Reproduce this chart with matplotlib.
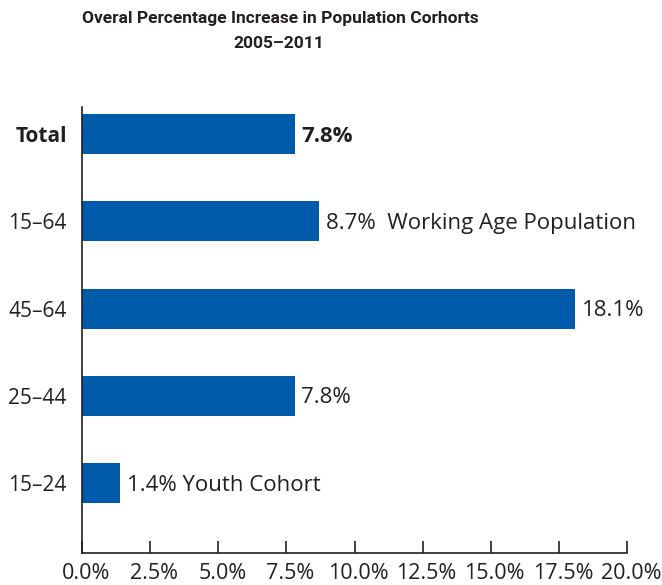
import matplotlib
matplotlib.use("Agg")
import matplotlib.pyplot as plt
from matplotlib.transforms import ScaledTranslation

plt.rcParams['font.family'] = ['Open Sans', 'DejaVu Sans']

categories = ["15\u201324", "25\u201344", "45\u201364", "15\u201364", "Total"]
values = [1.4, 7.8, 18.1, 8.7, 7.8]
notes = ["Youth Cohort", "", "", "Working Age Population", ""]
tick_values = [0.0, 2.5, 5.0, 7.5, 10.0, 12.5, 15.0, 17.5, 20.0]
tick_labels = ["0.0%", "2.5%", "5.0%", "7.5%", "10.0%", "12.5%", "15.0%", "17.5%", "20.0%"]

bar_color = "#005BAA"
text_color = "#231F20"

W, H = 662, 585
fig = plt.figure(figsize=(W / 100, H / 100), dpi=100)
ax = fig.add_axes([82 / W, 1 - 553 / H, (627 - 82) / W, (553 - 107) / H])

ypos = list(range(len(categories)))
ax.barh(ypos, values, height=0.46, color=bar_color, zorder=2)

ax.set_xlim(0, 20)
ax.set_ylim(-0.80, 4.31)

for i, (v, note) in enumerate(zip(values, notes)):
    bold = categories[i] == "Total"
    label = f"{v:.1f}%"
    if note:
        label = label + ("  " if note.startswith("Working") else " ") + note
    ax.annotate(label, (v, i), xytext=(5, -1.5), textcoords="offset points",
                va="center", ha="left", fontsize=16, color=text_color,
                fontweight="bold" if bold else "normal", annotation_clip=False)

ax.set_yticks(ypos)
ax.set_yticklabels(categories, fontsize=15, color=text_color)
for lbl, cat in zip(ax.get_yticklabels(), categories):
    if cat == "Total":
        lbl.set_fontweight("bold")
ax.tick_params(axis="y", length=0, pad=11)

ax.set_xticks(tick_values)
ax.set_xticklabels(tick_labels, fontsize=15.5, color=text_color)
ax.tick_params(axis="x", direction="in", length=9, width=1.2, color=text_color, pad=7)
shift = ScaledTranslation(4 / 100, 0, fig.dpi_scale_trans)
for lbl in ax.get_xticklabels():
    lbl.set_transform(lbl.get_transform() + shift)

for side in ("top", "right"):
    ax.spines[side].set_visible(False)
for side in ("left", "bottom"):
    ax.spines[side].set_color(text_color)
    ax.spines[side].set_linewidth(1.2)

title_family = ['Roboto', 'DejaVu Sans']
fig.text(280 / W, 1 - 19 / H, "Overal Percentage Increase in Population Corhorts",
         ha="center", va="center", fontsize=12.5, fontweight="bold",
         color=text_color, family=title_family)
fig.text(279 / W, 1 - 44 / H, "2005\u20132011",
         ha="center", va="center", fontsize=12.5, fontweight="bold",
         color=text_color, family=title_family)

fig.savefig("out.png", dpi=100)
